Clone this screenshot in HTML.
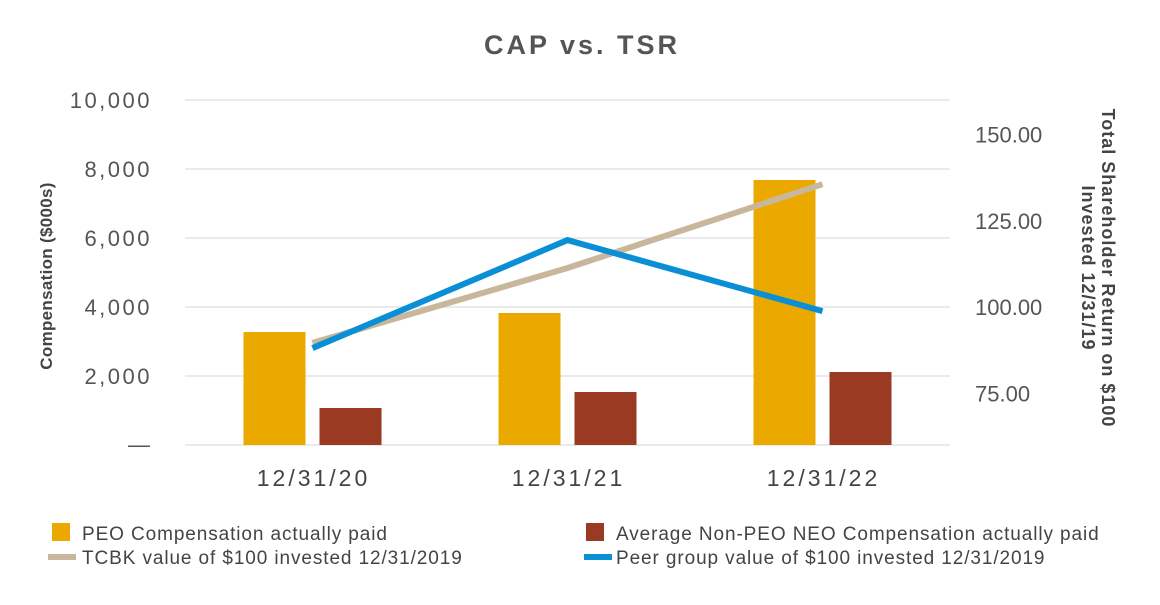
<!DOCTYPE html>
<html><head><meta charset="utf-8"><style>
body{margin:0;background:#fff;font-family:"Liberation Sans",sans-serif}
svg text{font-family:"Liberation Sans",sans-serif}
</style></head><body>
<svg id="chart" width="1160" height="600" viewBox="0 0 1160 600" xmlns="http://www.w3.org/2000/svg">
<text x="582" y="54" text-anchor="middle" font-size="27" font-weight="bold" fill="#555" letter-spacing="3">CAP vs. TSR</text>
<g id="grid"></g>
<g id="bars"></g>
<g id="lines"></g>
<g id="axes"></g>
<text transform="translate(52,276) rotate(-90)" text-anchor="middle" font-size="17" font-weight="bold" fill="#444" letter-spacing="0.3">Compensation ($000s)</text>
<text transform="translate(1102,268) rotate(90)" text-anchor="middle" font-size="18" font-weight="bold" fill="#444" letter-spacing="1"><tspan x="0" dy="0">Total Shareholder Return on $100</tspan><tspan x="0" dy="20">Invested 12/31/19</tspan></text>
<g font-size="19" fill="#444" letter-spacing="0.9">
<g><rect x="52" y="523" width="18" height="18" fill="#EBA900"/><text x="82" y="540">PEO Compensation actually paid</text></g>
<g><rect x="586" y="523" width="18" height="18" fill="#9B3A22"/><text x="616" y="540">Average Non-PEO NEO Compensation actually paid</text></g>
<g><line x1="48" y1="557" x2="76" y2="557" stroke="#C9B79C" stroke-width="6"/><text x="82" y="564">TCBK value of $100 invested 12/31/2019</text></g>
<g><line x1="584" y1="557" x2="612" y2="557" stroke="#0A8FD6" stroke-width="6"/><text x="616" y="564">Peer group value of $100 invested 12/31/2019</text></g>
</g>
</svg>
<script>
const categories=["12/31/20","12/31/21","12/31/22"];
const peoValues=[3275,3826,7681];
const neoValues=[1072,1536,2116];
const tcbkValues=[89.6,111.3,135.6];
const peerValues=[88.1,119.4,98.8];
const leftTicks=[2000,4000,6000,8000,10000];
const leftTickLabels=["2,000","4,000","6,000","8,000","10,000"];
const rightTicks=[75,100,125,150];
const rightTickLabels=["75.00","100.00","125.00","150.00"];

const NS="http://www.w3.org/2000/svg";
const x0=185,x1=950,yBase=445,yTop=100;
const yL=v=>yBase-(v/10000)*(yBase-yTop);
const yR=v=>yBase-((v-60)/100)*(yBase-yTop);
const band=(x1-x0)/categories.length;
const xC=i=>x0+band*(i+0.5);
function mk(tag,attrs,parent){const e=document.createElementNS(NS,tag);for(const k in attrs)e.setAttribute(k,attrs[k]);document.getElementById(parent).appendChild(e);return e;}

leftTicks.forEach((t,i)=>{
 const g=mk('line',{x1:x0,x2:x1,y1:yL(t),y2:yL(t),stroke:'#e3e3e3','stroke-width':1.5},'grid');
 
 
 const l=mk('text',{x:152,y:yL(t)+8,'text-anchor':'end','font-size':22,fill:'#555','letter-spacing':2.5},'axes');
 l.textContent=leftTickLabels[i];
 
 
});
const z=mk('text',{x:150,y:yBase+7,'text-anchor':'end','font-size':22,fill:'#555'},'axes');
z.textContent='—';


const bl=mk('line',{x1:x0,x2:x1,y1:yBase,y2:yBase,stroke:'#e3e3e3','stroke-width':1.5},'grid');


rightTicks.forEach((t,i)=>{
 const l=mk('text',{x:975,y:yR(t)+8,'font-size':22,fill:'#555'},'axes');
 l.textContent=rightTickLabels[i];
 
 
});
categories.forEach((c,i)=>{
 const l=mk('text',{x:xC(i)+1,y:486,'text-anchor':'middle','font-size':23,fill:'#444','letter-spacing':3},'axes');
 l.textContent=c;
 
 
 const b1=mk('rect',{x:xC(i)-69,y:yL(peoValues[i]),width:62,height:yBase-yL(peoValues[i]),fill:'#EBA900'},'bars');
 
 
 const b2=mk('rect',{x:xC(i)+7,y:yL(neoValues[i]),width:62,height:yBase-yL(neoValues[i]),fill:'#9B3A22'},'bars');
 
 
});
const pts=a=>a.map((v,i)=>xC(i)+','+yR(v)).join(' ');
const lt=mk('polyline',{points:pts(tcbkValues),fill:'none',stroke:'#C9B79C','stroke-width':6},'lines');


const lp=mk('polyline',{points:pts(peerValues),fill:'none',stroke:'#0A8FD6','stroke-width':6},'lines');


</script>
</body></html>
